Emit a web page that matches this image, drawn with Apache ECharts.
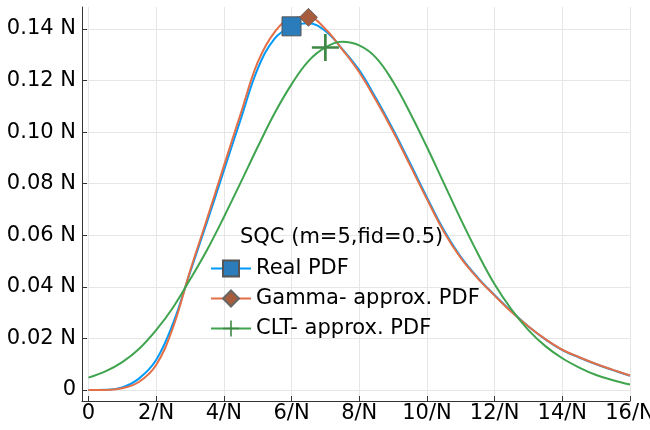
<!DOCTYPE html>
<html><head><meta charset="utf-8">
<script src="https://cdn.jsdelivr.net/npm/echarts@6/dist/echarts.min.js"></script>
<style>html,body{margin:0;padding:0;background:#fff}#c{width:650px;height:430px}</style>
</head><body><div id="c"></div>
<script>
const xValues = [0,0.5,1,1.5,2,2.5,3,3.5,4,4.5,5,5.5,6,6.5,7,7.5,8,8.5,9,9.5,10,10.5,11,11.5,12,12.5,13,13.5,14,14.5,15,15.5,16];
const realPdf = [0,0.0001,0.0010,0.0045,0.0116,0.0258,0.0455,0.0650,0.0850,0.1050,0.1245,0.1362,0.1410,0.1422,0.1392,0.1322,0.1240,0.1130,0.1010,0.0880,0.0747,0.0620,0.0516,0.0436,0.0368,0.0304,0.0246,0.0196,0.0155,0.0126,0.0100,0.0077,0.0055];
const gammaPdf = [0,0,0.0007,0.0032,0.0097,0.0243,0.0460,0.0662,0.0868,0.1072,0.1270,0.1388,0.1440,0.1445,0.1400,0.1320,0.1232,0.1122,0.1002,0.0872,0.0740,0.0614,0.0512,0.0433,0.0366,0.0302,0.0246,0.0197,0.0156,0.0127,0.0101,0.0078,0.0056];
const cltPdf = [0.0048,0.0072,0.0108,0.0160,0.0232,0.0320,0.0428,0.0542,0.0670,0.0805,0.0942,0.1073,0.1185,0.1275,0.1328,0.1350,0.1336,0.1288,0.1195,0.1075,0.0942,0.0802,0.0662,0.0530,0.0410,0.0312,0.0232,0.0170,0.0123,0.0087,0.0058,0.0038,0.0021];
const markerIndex = [12, 13, 14];
const seriesNames = ['Real PDF', 'Gamma- approx. PDF', 'CLT- approx. PDF'];
const legendTitle = 'SQC (m=5,fid=0.5)';
const xTickValues = [0,2,4,6,8,10,12,14,16];
const xTickLabels = ['0','2/N','4/N','6/N','8/N','10/N','12/N','14/N','16/N'];
const yTickValues = [0,0.02,0.04,0.06,0.08,0.10,0.12,0.14];
const yTickLabels = ['0','0.02 N','0.04 N','0.06 N','0.08 N','0.10 N','0.12 N','0.14 N'];

const FONT = 'DejaVu Sans';
const FS = 21;
const plusPath = 'path://M9,0 H11 V9 H20 V11 H11 V20 H9 V11 H0 V9 H9 Z';

function lab(vals, labels) {
  return function (v) {
    for (let i = 0; i < vals.length; i++) if (Math.abs(vals[i] - v) < 1e-9) return labels[i];
    return '';
  };
}

function mk(name, ys, lineColor, symbol, size, itemStyle, mi) {
  return {
    type: 'line', name: name,
    data: xValues.map((x, i) => [x, ys[i]]),
    smooth: 0.4,
    showSymbol: true, showAllSymbol: true,
    symbol: symbol,
    symbolSize: (v, p) => (p.dataIndex === mi ? size : 0),
    lineStyle: { color: lineColor, width: 2 },
    itemStyle: itemStyle,
    emphasis: { disabled: true },
    animation: false
  };
}

const chart = echarts.init(document.getElementById('c'), null, { renderer: 'canvas' });
chart.setOption({
  backgroundColor: '#fff',
  animation: false,
  grid: { left: 82, right: 20, top: 7, bottom: 29, containLabel: false, outerBoundsMode: 'none' },
  title: {
    text: legendTitle, left: 240, top: 227, padding: 0,
    textStyle: { fontSize: FS, fontWeight: 'normal', color: '#000', fontFamily: FONT }
  },
  legend: {
    orient: 'vertical', left: 210, top: 258, padding: 0,
    itemWidth: 40, itemHeight: 20, itemGap: 9,
    selectedMode: false,
    data: seriesNames,
    textStyle: { fontSize: FS, color: '#000', fontFamily: FONT }
  },
  xAxis: {
    type: 'value', min: -0.19, max: 16,
    axisLine: { show: true, onZero: false, lineStyle: { color: '#333', width: 1 } },
    axisTick: { show: true, inside: true, length: 5, customValues: xTickValues, lineStyle: { color: '#333' } },
    axisLabel: { customValues: xTickValues, formatter: lab(xTickValues, xTickLabels), fontSize: FS, color: '#000', fontFamily: FONT, margin: 2 },
    splitLine: { show: true, lineStyle: { color: '#e6e6e6', width: 1 } }
  },
  yAxis: {
    type: 'value', min: -0.00427, max: 0.1485,
    axisLine: { show: true, onZero: false, lineStyle: { color: '#333', width: 1 } },
    axisTick: { show: true, inside: true, length: 5, customValues: yTickValues, lineStyle: { color: '#333' } },
    axisLabel: { customValues: yTickValues, formatter: lab(yTickValues, yTickLabels), fontSize: FS, color: '#000', fontFamily: FONT, margin: 6 },
    splitLine: { show: true, lineStyle: { color: '#e6e6e6', width: 1 } }
  },
  series: [
    mk(seriesNames[0], realPdf, '#009AFA', 'rect', 19, { color: '#2b7cba', borderColor: '#555', borderWidth: 1 }, markerIndex[0]),
    mk(seriesNames[1], gammaPdf, '#E36F47', 'diamond', 18, { color: '#a65c3d', borderColor: '#666', borderWidth: 1 }, markerIndex[1]),
    mk(seriesNames[2], cltPdf, '#3EA44E', plusPath, 27, { color: '#3f8744', borderWidth: 0 }, markerIndex[2])
  ]
});
</script></body></html>
